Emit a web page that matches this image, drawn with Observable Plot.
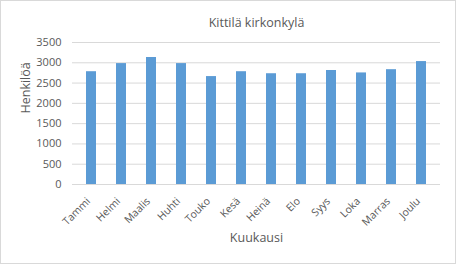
<!DOCTYPE html>
<html>
<head>
<meta charset="utf-8">
<script src="https://cdn.jsdelivr.net/npm/d3@7"></script>
<script src="https://cdn.jsdelivr.net/npm/@observablehq/plot@0.6"></script>
<style>
  html, body { margin: 0; padding: 0; background: #fff; }
  svg { display: block; }
</style>
</head>
<body>
<div id="chart"></div>
<script>
const months = ["Tammi", "Helmi", "Maalis", "Huhti", "Touko", "Kesä", "Heinä", "Elo", "Syys", "Loka", "Marras", "Joulu"];
const values = [2780, 2980, 3130, 2980, 2660, 2780, 2730, 2730, 2810, 2750, 2830, 3030];
const yTicks = [0, 500, 1000, 1500, 2000, 2500, 3000, 3500];
const title = "Kittilä kirkonkylä";
const xTitle = "Kuukausi";
const yTitle = "Henkilöä";

const data = months.map((m, i) => ({month: m, value: values[i]}));

const W = 456, H = 264;
const mL = 72, mR = 16, mT = 42, mB = 80;
const gray = "#595959";

const plot = Plot.plot({
  width: W,
  height: H,
  marginLeft: mL,
  marginRight: mR,
  marginTop: mT,
  marginBottom: mB,
  style: {fontFamily: "'Open Sans', sans-serif", fontSize: "11px", color: gray, background: "#fff"},
  x: {domain: months, paddingInner: 0.67, paddingOuter: 0.335, label: null, range: [mL, W - mR]},
  y: {domain: [0, 3500], ticks: yTicks, label: null, range: [H - mB, mT]},
  marks: [
    Plot.gridY(yTicks, {stroke: "#d9d9d9", strokeOpacity: 1, strokeWidth: 1}),
    Plot.barY(data, {x: "month", y: "value", fill: "#5b9bd5"}),
    Plot.axisY(yTicks, {tickSize: 0, tickPadding: 11, fill: gray, label: null, fontSize: 11, tickFormat: d3.format("d")}),
    Plot.axisX({tickSize: 0, tickPadding: 6, tickRotate: -45, fill: gray, label: null, fontSize: 10.5, dx: -3, dy: 9}),
    Plot.text([title], {frameAnchor: "top", dy: -24, fill: gray, fontSize: 12.5}),
    Plot.text([xTitle], {frameAnchor: "bottom", dy: 57, fill: gray, fontSize: 12.5}),
    Plot.text([yTitle], {frameAnchor: "left", dx: -47, rotate: -90, fill: gray, fontSize: 12.5})
  ]
});

const svg = d3.select(plot);
svg.insert("rect", ":first-child")
  .attr("x", 0.5).attr("y", 0.5)
  .attr("width", W - 1).attr("height", H - 1)
  .attr("fill", "#fff")
  .attr("stroke", "#d9d9d9");

document.getElementById("chart").appendChild(plot);
</script>
</body>
</html>
